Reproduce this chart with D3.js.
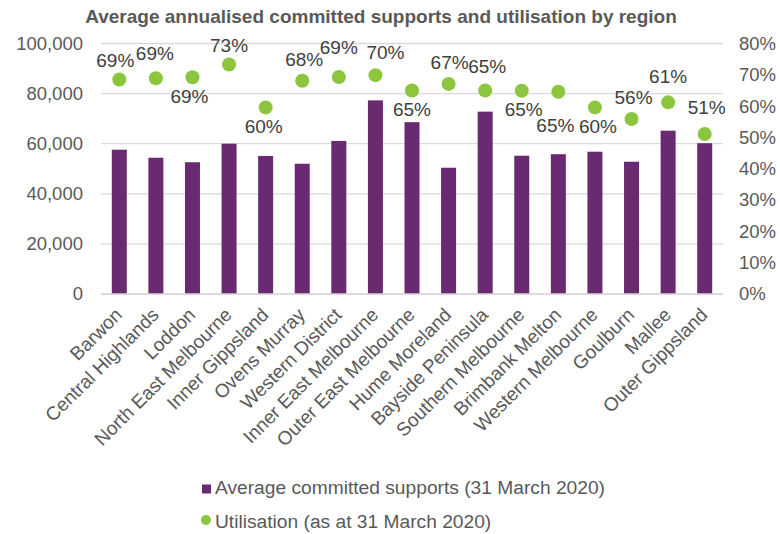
<!DOCTYPE html>
<html>
<head>
<meta charset="utf-8">
<script src="https://cdn.jsdelivr.net/npm/d3@7"></script>
<style>
  body { margin: 0; background: #fff; }
  svg { display: block; font-family: "Liberation Sans", Arial, sans-serif; }
</style>
</head>
<body>
<svg id="chart" width="780" height="534"></svg>
<script>
// ---- data ----
const regions = ["Barwon", "Central Highlands", "Loddon", "North East Melbourne", "Inner Gippsland",
  "Ovens Murray", "Western District", "Inner East Melbourne", "Outer East Melbourne", "Hume Moreland",
  "Bayside Peninsula", "Southern Melbourne", "Brimbank Melton", "Western Melbourne", "Goulburn",
  "Mallee", "Outer Gippsland"];
const committedSupports = [57600, 54400, 52600, 60000, 55100, 52000, 61100, 77300, 68600, 50400,
  72800, 55200, 55800, 56800, 52800, 65200, 60200];
const utilisation = [0.685, 0.689, 0.692, 0.733, 0.596, 0.681, 0.693, 0.699, 0.650, 0.671,
  0.650, 0.649, 0.646, 0.596, 0.559, 0.612, 0.511];
const leftTicks = [0, 20000, 40000, 60000, 80000, 100000];
const rightTicks = [0, 0.1, 0.2, 0.3, 0.4, 0.5, 0.6, 0.7, 0.8];
const seriesNames = ["Average committed supports (31 March 2020)", "Utilisation (as at 31 March 2020)"];
const title = "Average annualised committed supports and utilisation by region";

// ---- style: manual data-label placement (dx, dy from the point), as in the original ----
const labelOffsets = [[-4, -13], [-1, -18], [-3, 26], [0, -12], [-2, 26], [2, -15], [0, -23], [10, -16],
  [0, 26], [1, -15], [2, -17], [2, 25], [-3, 40], [3, 26], [2, -15], [0, -19], [2, -20]];

const purple = "#6a2a72";
const green = "#8cc63f";
const textCol = "#595959";

const svg = d3.select("#chart");
const m = { left: 101, right: 723, top: 43.5, bottom: 294 };

const x = d3.scaleBand().domain(regions).range([m.left, m.right]).padding(0);
const yL = d3.scaleLinear().domain([0, 100000]).range([m.bottom, m.top]);
const yR = d3.scaleLinear().domain([0, 0.8]).range([m.bottom, m.top]);

// title
svg.append("text").attr("x", 381).attr("y", 23).attr("text-anchor", "middle")
  .attr("font-size", 19).attr("font-weight", "bold").attr("fill", textCol).text(title);

// gridlines
svg.append("g").selectAll("line").data(leftTicks).join("line")
  .attr("x1", m.left).attr("x2", m.right)
  .attr("y1", d => yL(d)).attr("y2", d => yL(d))
  .attr("stroke", "#d9d9d9").attr("stroke-width", 1.3);

// left axis
const axL = svg.append("g").attr("transform", `translate(${m.left},0)`)
  .call(d3.axisLeft(yL).tickValues(leftTicks).tickFormat(d3.format(",")).tickSize(0).tickPadding(18));
axL.select(".domain").remove();
axL.selectAll("text").attr("font-size", 18.5).attr("fill", textCol).attr("font-family", "Liberation Sans, Arial, sans-serif");

// right axis
const axR = svg.append("g").attr("transform", `translate(${m.right},0)`)
  .call(d3.axisRight(yR).tickValues(rightTicks).tickFormat(d3.format(".0%")).tickSize(0).tickPadding(16));
axR.select(".domain").remove();
axR.selectAll("text").attr("font-size", 18.5).attr("fill", textCol).attr("font-family", "Liberation Sans, Arial, sans-serif");

// bars
const barW = x.bandwidth() * 0.41;
svg.append("g").selectAll("rect").data(regions).join("rect")
  .attr("x", (d) => x(d) + x.bandwidth() / 2 - barW / 2)
  .attr("width", barW)
  .attr("y", (d, i) => yL(committedSupports[i]))
  .attr("height", (d, i) => yL(0) - yL(committedSupports[i]))
  .attr("fill", purple);

// baseline axis
svg.append("line").attr("x1", m.left).attr("x2", m.right)
  .attr("y1", yL(0)).attr("y2", yL(0)).attr("stroke", "#d9d9d9").attr("stroke-width", 1.5);

// x labels
const xg = svg.append("g");
xg.selectAll("text").data(regions).join("text")
  .attr("transform", d => `translate(${x(d) + x.bandwidth() / 2 + 4},${m.bottom + 22}) rotate(-45)`)
  .attr("text-anchor", "end")
  .attr("font-size", 19).attr("fill", textCol)
  .text(d => d);

// dots
svg.append("g").selectAll("circle").data(regions).join("circle")
  .attr("cx", d => x(d) + x.bandwidth() / 2)
  .attr("cy", (d, i) => yR(utilisation[i]))
  .attr("r", 7).attr("fill", green);

// dot labels
svg.append("g").selectAll("text").data(regions).join("text")
  .attr("x", (d, i) => x(d) + x.bandwidth() / 2 + labelOffsets[i][0])
  .attr("y", (d, i) => yR(utilisation[i]) + labelOffsets[i][1])
  .attr("text-anchor", "middle").attr("font-size", 19).attr("fill", "#404040")
  .text((d, i) => d3.format(".0%")(utilisation[i]));

// legend
const lg = svg.append("g");
lg.append("rect").attr("x", 202).attr("y", 484.5).attr("width", 9).attr("height", 9).attr("fill", purple);
lg.append("text").attr("x", 215).attr("y", 494).attr("font-size", 19.2).attr("fill", textCol).text(seriesNames[0]);
lg.append("circle").attr("cx", 206).attr("cy", 520).attr("r", 5).attr("fill", green);
lg.append("text").attr("x", 215).attr("y", 528).attr("font-size", 19.2).attr("fill", textCol).text(seriesNames[1]);
</script>
</body>
</html>
